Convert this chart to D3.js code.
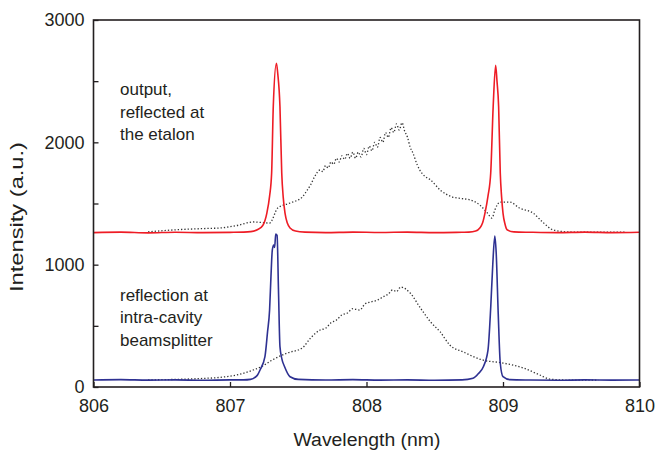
<!DOCTYPE html>
<html>
<head>
<meta charset="utf-8">
<script src="https://cdn.jsdelivr.net/npm/d3@7"></script>
<style>
  body { margin: 0; background: #fff; }
  text { font-family: "Liberation Sans", Arial, sans-serif; fill: #231f20; }
</style>
</head>
<body>
<svg id="canvas" width="656" height="451"></svg>
<script>
// reflected at the etalon (red, offset) and its broadband spectrum (dotted)
let redWl  = [806.0, 806.2, 806.4, 806.6, 806.8, 807.0, 807.1, 807.15, 807.2, 807.24, 807.27, 807.29, 807.305, 807.317, 807.34, 807.35, 807.366, 807.379, 807.39, 807.403, 807.42, 807.44, 807.48, 807.55, 807.7, 807.9, 808.1, 808.3, 808.5, 808.7, 808.75, 808.8, 808.83, 808.85, 808.868, 808.89, 808.91, 808.928, 808.946, 808.956, 808.968, 808.98, 808.99, 809.0, 809.015, 809.03, 809.08, 809.2, 809.4, 809.6, 809.8, 810.0]
let redVal = [1262, 1266, 1260, 1265, 1262, 1264, 1266, 1270, 1285, 1320, 1422, 1560, 1749, 2291, 2646, 2560, 2291, 1749, 1550, 1422, 1340, 1300, 1275, 1266, 1262, 1266, 1263, 1266, 1262, 1265, 1266, 1275, 1300, 1340, 1422, 1560, 1749, 2291, 2630, 2500, 2291, 1749, 1550, 1422, 1330, 1285, 1268, 1265, 1262, 1266, 1262, 1265]

let topDotWl  = [806.4, 806.6, 806.8, 806.93, 807.05, 807.17, 807.29, 807.35, 807.44, 807.53, 807.56, 807.59, 807.62, 807.66, 807.68, 807.7, 807.72, 807.74, 807.76, 807.78, 807.8, 807.82, 807.84, 807.86, 807.88, 807.9, 807.92, 807.94, 807.96, 807.98, 808.0, 808.02, 808.04, 808.06, 808.08, 808.1, 808.12, 808.14, 808.16, 808.18, 808.2, 808.22, 808.24, 808.26, 808.28, 808.3, 808.32, 808.34, 808.37, 808.39, 808.43, 808.47, 808.54, 808.63, 808.7, 808.76, 808.83, 808.88, 808.92, 808.94, 808.98, 809.05, 809.12, 809.22, 809.29, 809.37, 809.49, 809.7, 809.9]
let topDotVal = [1268, 1285, 1295, 1300, 1320, 1349, 1340, 1463, 1504, 1553, 1600, 1651, 1720, 1774, 1760, 1810, 1790, 1840, 1820, 1870, 1840, 1890, 1860, 1910, 1870, 1920, 1870, 1920, 1880, 1950, 1900, 1970, 1930, 2000, 1960, 2040, 2000, 2080, 2040, 2120, 2080, 2150, 2100, 2160, 2090, 2043, 1960, 1913, 1820, 1774, 1720, 1692, 1610, 1553, 1540, 1529, 1488, 1430, 1381, 1447, 1512, 1512, 1463, 1422, 1349, 1283, 1267, 1265, 1265]

// reflection at the intra-cavity beamsplitter (blue) and its spectrum (dotted)
let blueWl  = [806.0, 806.2, 806.4, 806.6, 806.8, 807.0, 807.1, 807.15, 807.2, 807.22, 807.256, 807.275, 807.29, 807.3, 807.31, 807.32, 807.327, 807.335, 807.345, 807.355, 807.366, 807.38, 807.4, 807.44, 807.5, 807.7, 807.9, 808.1, 808.3, 808.5, 808.7, 808.78, 808.82, 808.856, 808.89, 808.91, 808.925, 808.94, 808.95, 808.965, 808.98, 809.0, 809.05, 809.2, 809.4, 809.6, 809.8, 810.0]
let blueVal = [57, 60, 56, 58, 55, 58, 58, 62, 95, 139, 248, 450, 629, 900, 1120, 1160, 1140, 1250, 1240, 800, 330, 230, 166, 84, 62, 57, 60, 56, 58, 55, 58, 71, 110, 166, 302, 650, 1000, 1234, 1100, 600, 194, 84, 60, 57, 55, 58, 56, 57]

let lowDotWl  = [806.4, 806.6, 806.8, 806.93, 807.07, 807.17, 807.24, 807.31, 807.42, 807.53, 807.59, 807.66, 807.7, 807.74, 807.78, 807.82, 807.86, 807.9, 807.95, 807.99, 808.03, 808.08, 808.12, 808.16, 808.19, 808.22, 808.25, 808.32, 808.39, 808.47, 808.54, 808.61, 808.71, 808.85, 809.0, 809.15, 809.27, 809.34, 809.45, 809.7]
let lowDotVal = [58, 62, 70, 79, 104, 139, 172, 221, 278, 319, 400, 466, 480, 525, 548, 590, 605, 640, 629, 680, 695, 710, 736, 760, 793, 780, 817, 768, 654, 531, 450, 343, 286, 221, 196, 155, 98, 65, 57, 56]

let xTicks = [806, 807, 808, 809, 810]
let yTicks = [0, 500, 1000, 1500, 2000, 2500, 3000]

let labelTop = ["output,", "reflected at", "the etalon"]
let labelLow = ["reflection at", "intra-cavity", "beamsplitter"]

let svg = d3.select("#canvas")

let x = d3.scaleLinear().domain([806, 810]).range([93.5, 639.5])
let y = d3.scaleLinear().domain([0, 3000]).range([387, 20])

let line = d3.line()
    .x(d => x(d[0]))
    .y(d => y(d[1]))
    .curve(d3.curveMonotoneX)

let pairs = (a, b) => a.map((w, i) => [w, b[i]])

// dotted spectra
svg.append("path")
    .attr("d", line(pairs(topDotWl, topDotVal)))
    .attr("fill", "none")
    .attr("stroke", "#333")
    .attr("stroke-width", 1.3)
    .attr("stroke-dasharray", "1.3,2")

svg.append("path")
    .attr("d", line(pairs(lowDotWl, lowDotVal)))
    .attr("fill", "none")
    .attr("stroke", "#333")
    .attr("stroke-width", 1.3)
    .attr("stroke-dasharray", "1.3,2")

// solid traces
svg.append("path")
    .attr("d", line(pairs(redWl, redVal)))
    .attr("fill", "none")
    .attr("stroke", "#ee1c25")
    .attr("stroke-width", 1.6)

svg.append("path")
    .attr("d", line(pairs(blueWl, blueVal)))
    .attr("fill", "none")
    .attr("stroke", "#2e3192")
    .attr("stroke-width", 1.6)

// frame
svg.append("rect")
    .attr("x", x(806))
    .attr("y", y(3000))
    .attr("width", x(810) - x(806))
    .attr("height", y(0) - y(3000))
    .attr("fill", "none")
    .attr("stroke", "#231f20")
    .attr("stroke-width", 1.6)

let xAxis = svg.append("g")
    .attr("transform", "translate(0," + y(0) + ")")
    .call(d3.axisBottom(x).tickValues(xTicks).tickFormat(d3.format("d"))
        .tickSizeInner(-5).tickSizeOuter(0).tickPadding(12))

let yAxis = svg.append("g")
    .attr("transform", "translate(" + x(806) + ",0)")
    .call(d3.axisLeft(y).tickValues(yTicks)
        .tickFormat(d => d % 1000 === 0 ? d : "")
        .tickSizeInner(-5).tickSizeOuter(0).tickPadding(9))

for (let g of [xAxis, yAxis]) {
    g.select(".domain").remove()
    g.selectAll(".tick line").attr("stroke", "#231f20").attr("stroke-width", 1.3)
    g.selectAll("text").attr("font-size", 18).attr("font-family", null).attr("fill", "#231f20")
}

// axis titles
svg.append("text")
    .attr("x", 367)
    .attr("y", 446)
    .attr("text-anchor", "middle")
    .attr("font-size", 18)
    .attr("textLength", 147)
    .attr("lengthAdjust", "spacingAndGlyphs")
    .text("Wavelength (nm)")

svg.append("text")
    .attr("transform", "translate(23,217) rotate(-90)")
    .attr("text-anchor", "middle")
    .attr("font-size", 18)
    .attr("textLength", 150)
    .attr("lengthAdjust", "spacingAndGlyphs")
    .text("Intensity (a.u.)")

// annotations
svg.append("g").selectAll("text")
    .data(labelTop)
    .join("text")
    .attr("x", 120)
    .attr("y", (d, i) => 95 + i * 22.5)
    .attr("font-size", 17)
    .text(d => d)

svg.append("g").selectAll("text")
    .data(labelLow)
    .join("text")
    .attr("x", 120)
    .attr("y", (d, i) => 300.5 + i * 22.5)
    .attr("font-size", 17)
    .text(d => d)
</script>
</body>
</html>
